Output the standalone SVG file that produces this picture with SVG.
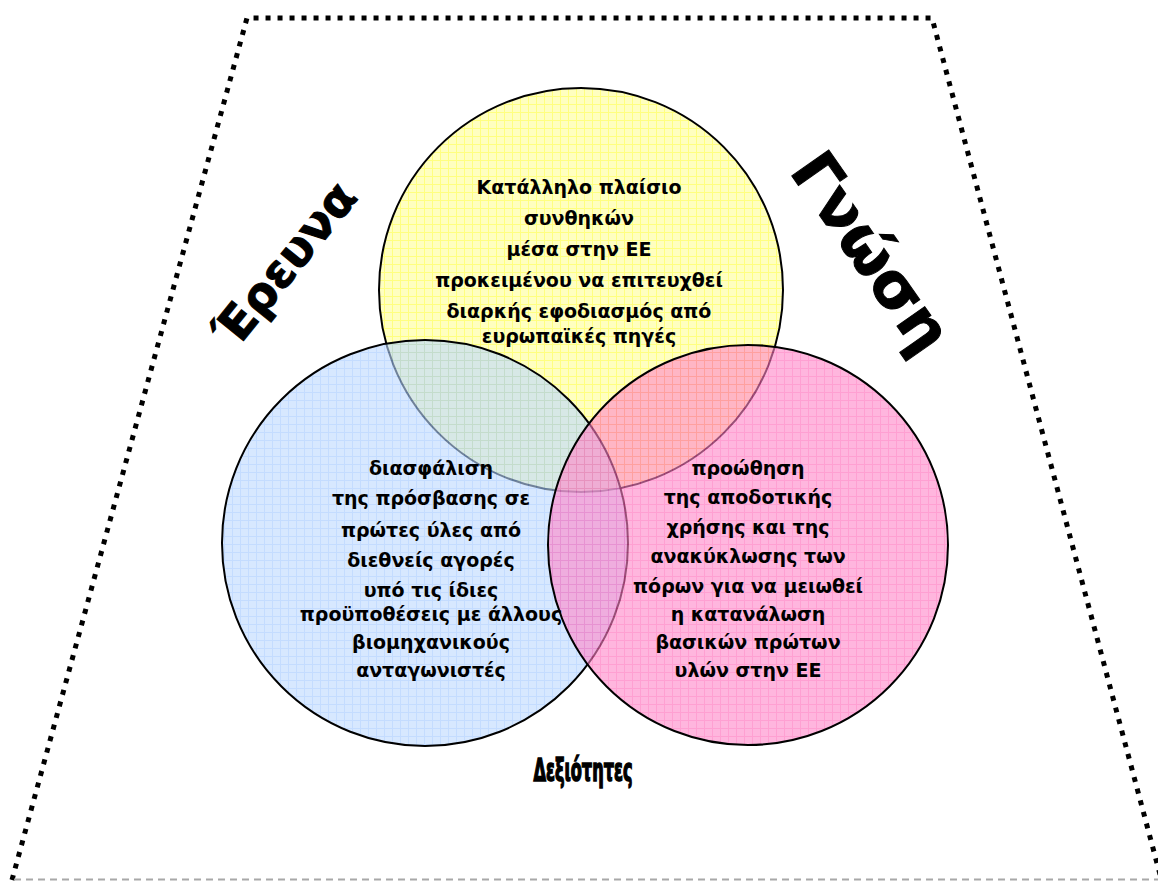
<svg xmlns="http://www.w3.org/2000/svg" width="1158" height="881" viewBox="0 0 1158 881">
<defs>
<pattern id="pY" width="8" height="8" patternUnits="userSpaceOnUse">
<rect width="8" height="8" fill="#FFFFC0"/>
<path d="M0,0.5H8M0.5,0V8" stroke="#FFFF80" stroke-width="1"/>
</pattern>
<pattern id="pB" width="8" height="8" patternUnits="userSpaceOnUse">
<rect width="8" height="8" fill="#BCD9FF"/>
<path d="M0,0.5H8M0.5,0V8" stroke="#9CC4FF" stroke-width="1"/>
</pattern>
<pattern id="pP" width="8" height="8" patternUnits="userSpaceOnUse">
<rect width="8" height="8" fill="#FF86C8"/>
<path d="M0,0.5H8M0.5,0V8" stroke="#FF60B4" stroke-width="1"/>
</pattern>
</defs>
<style>
.c{stroke:#000;stroke-width:2}
.t{font-family:"DejaVu Sans","Liberation Sans",sans-serif;font-weight:bold;font-size:19px;text-anchor:middle;fill:#000}
.big{font-family:"DejaVu Sans","Liberation Sans",sans-serif;font-weight:bold;text-anchor:middle;fill:#000;stroke:#000;stroke-width:1}
</style>
<rect width="1158" height="881" fill="#fff"/>
<g id="frame">
<path d="M12,880 L247,18 L932,18 L1162,882" fill="none" stroke="#000" stroke-width="5" stroke-dasharray="5 7"/>
<line x1="14" y1="879.5" x2="1158" y2="879.5" stroke="#A8A8A8" stroke-width="2" stroke-dasharray="7 5"/>
</g>
<g id="circle-yellow">
<circle class="c" cx="581" cy="290" r="202" fill="url(#pY)"/>
</g>
<g id="circle-blue">
<circle class="c" cx="425" cy="543" r="203" fill="url(#pB)" fill-opacity="0.6"/>
</g>
<g id="circle-pink">
<circle class="c" cx="748" cy="545" r="200" fill="url(#pP)" fill-opacity="0.6"/>
</g>
<g id="text-yellow">
<text class="t" x="579" y="194">Κατάλληλο πλαίσιο</text>
<text class="t" x="579" y="225">συνθηκών</text>
<text class="t" x="579" y="256">μέσα στην ΕΕ</text>
<text class="t" x="579" y="287">προκειμένου να επιτευχθεί</text>
<text class="t" x="579" y="318">διαρκής εφοδιασμός από</text>
<text class="t" x="579" y="343">ευρωπαϊκές πηγές</text>
</g>
<g id="text-blue">
<text class="t" x="431" y="475">διασφάλιση</text>
<text class="t" x="431" y="505">της πρόσβασης σε</text>
<text class="t" x="431" y="537">πρώτες ύλες από</text>
<text class="t" x="431" y="567">διεθνείς αγορές</text>
<text class="t" x="431" y="597">υπό τις ίδιες</text>
<text class="t" x="431" y="621">προϋποθέσεις με άλλους</text>
<text class="t" x="431" y="649">βιομηχανικούς</text>
<text class="t" x="431" y="677">ανταγωνιστές</text>
</g>
<g id="text-pink">
<text class="t" x="748" y="475">προώθηση</text>
<text class="t" x="748" y="504">της αποδοτικής</text>
<text class="t" x="748" y="534">χρήσης και της</text>
<text class="t" x="748" y="563">ανακύκλωσης των</text>
<text class="t" x="748" y="593">πόρων για να μειωθεί</text>
<text class="t" x="748" y="621">η κατανάλωση</text>
<text class="t" x="748" y="649">βασικών πρώτων</text>
<text class="t" x="748" y="677">υλών στην ΕΕ</text>
</g>
<g id="label-research">
<text class="big" font-size="47" transform="translate(285,264) rotate(-51)" y="16">Έρευνα</text>
</g>
<g id="label-knowledge">
<text class="big" font-size="62" transform="translate(872,252) rotate(55)" y="22">Γνώση</text>
</g>
<g id="label-skills">
<text font-family="'DejaVu Sans Condensed','DejaVu Sans',sans-serif" font-weight="bold" font-size="24" text-anchor="middle" stroke="#000" stroke-width="1.2" transform="translate(583,781) scale(1,1.3)" textLength="99" lengthAdjust="spacingAndGlyphs">Δεξιότητες</text>
</g>
</svg>
